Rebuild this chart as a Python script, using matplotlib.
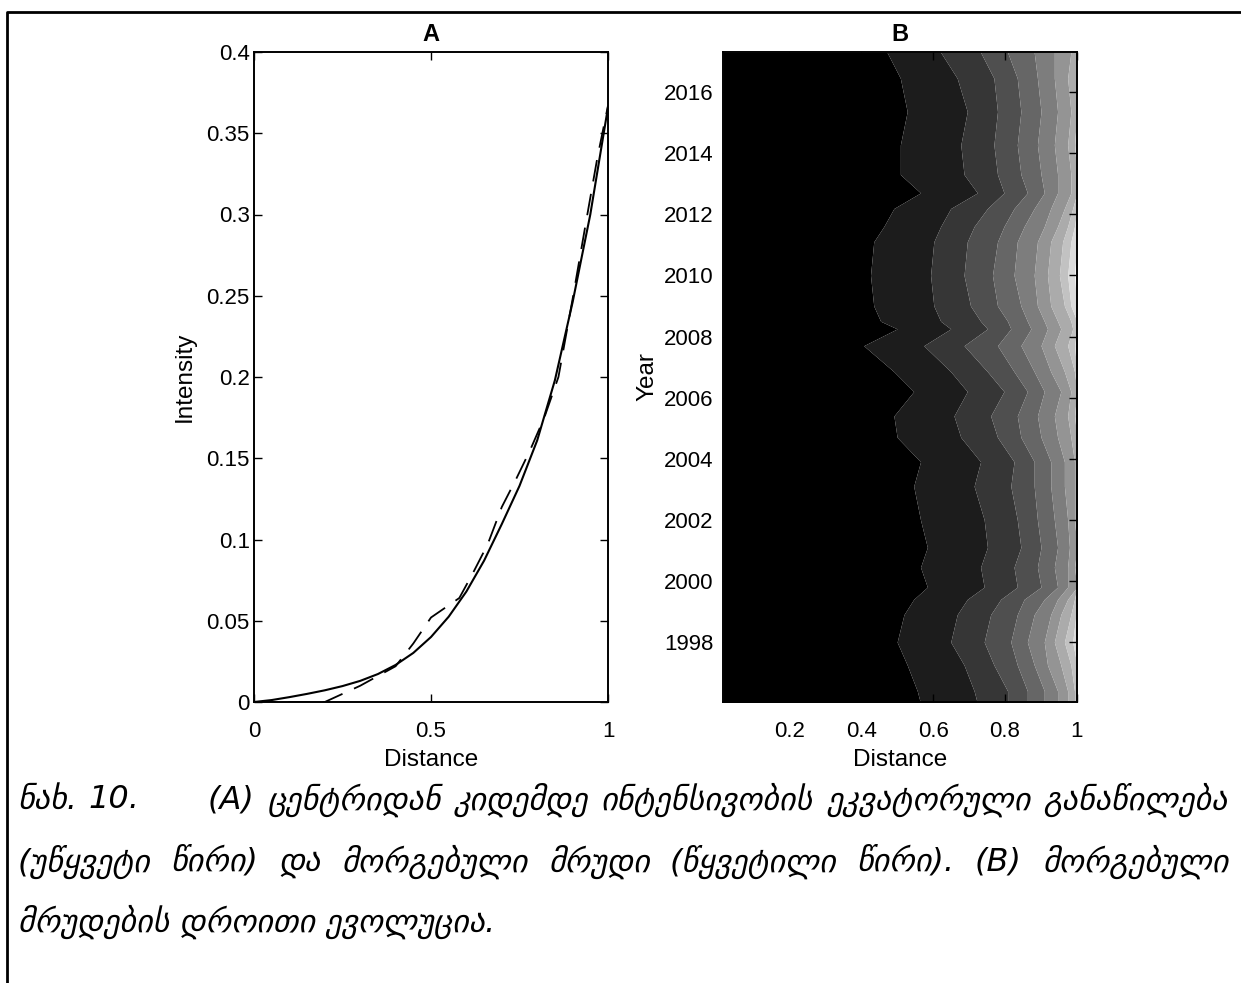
import numpy as np
import matplotlib
matplotlib.use("Agg")
import matplotlib.pyplot as plt
from matplotlib.lines import Line2D

plt.rcParams['font.family'] = ['Liberation Sans', 'DejaVu Sans']

# Panel A: equatorial intensity profile (solid) and fitted curve (dashed)
dist_solid = [0.0, 0.05, 0.1, 0.15, 0.2, 0.25, 0.3, 0.35, 0.4, 0.45, 0.5,
              0.55, 0.6, 0.65, 0.7, 0.75, 0.8, 0.85, 0.9, 0.95, 1.0]
int_solid = [0.0, 0.0012, 0.003, 0.005, 0.0072, 0.0098, 0.013, 0.0172, 0.0228, 0.0302, 0.040,
             0.0525, 0.068, 0.087, 0.1095, 0.133, 0.161, 0.198, 0.246, 0.300, 0.366]
dist_fit = [0.0, 0.1, 0.2, 0.25, 0.3, 0.35, 0.4, 0.45, 0.5, 0.54, 0.58, 0.62, 0.66,
            0.7, 0.74, 0.78, 0.82, 0.86, 0.9, 0.94, 0.97, 1.0]
int_fit = [0.0, 0.0, 0.0, 0.005, 0.010, 0.016, 0.022, 0.036, 0.052, 0.058, 0.064, 0.080,
           0.097, 0.120, 0.137, 0.155, 0.175, 0.200, 0.248, 0.298, 0.335, 0.367]

# Panel B: distance where each contour level starts, per year
years = [1996.0, 1996.4, 1997.25, 1998.0, 1998.9, 1999.4, 1999.8, 2000.45, 2001.1, 2002.0,
         2003.1, 2003.9, 2004.7, 2005.4, 2006.2, 2006.85, 2007.7, 2008.25, 2008.5, 2009.0,
         2010.0, 2011.1, 2011.6, 2012.19, 2012.7, 2013.3, 2014.27, 2015.36, 2016.45, 2017.3]
lvl1 = [.565, .556, .528, .500, .519, .546, .584, .565, .584, .565, .546, .565, .500, .491, .546,
        .491, .407, .500, .454, .435, .426, .435, .463, .491, .565, .509, .509, .528, .509, .472]
lvl2 = [.723, .714, .686, .649, .667, .695, .742, .732, .751, .742, .714, .732, .677, .658, .695,
        .649, .574, .649, .621, .602, .593, .602, .621, .649, .723, .686, .677, .695, .667, .621]
lvl3 = [.807, .807, .769, .742, .760, .788, .834, .825, .844, .834, .816, .825, .779, .760, .797,
        .751, .686, .751, .732, .704, .686, .695, .714, .751, .797, .779, .769, .779, .769, .732]
lvl4 = [.862, .862, .834, .816, .834, .853, .900, .890, .900, .890, .881, .881, .844, .834, .862,
        .825, .779, .816, .807, .779, .765, .779, .797, .825, .862, .844, .834, .844, .834, .807]
lvl5 = [.909, .909, .881, .862, .881, .909, .946, .937, .946, .937, .927, .927, .900, .890, .909,
        .881, .844, .872, .862, .844, .825, .834, .853, .881, .909, .900, .890, .900, .890, .881]
lvl6 = [.946, .946, .918, .909, .927, .946, .974, .974, .979, .974, .965, .965, .946, .937, .955,
        .927, .900, .918, .909, .890, .881, .890, .909, .927, .946, .946, .937, .946, .937, .937]
lvl7 = [.974, .974, .955, .937, .955, .974, 1.0, .993, 1.0, .993, .993, .993, .983, .974, .983,
        .965, .937, .955, .946, .927, .918, .927, .946, .965, .983, .983, .974, .983, .974, .983]
lvl8 = [.993, .993, .983, .965, .983, .993, 1.0, 1.0, 1.0, 1.0, 1.0, 1.0, 1.0, .993, 1.0,
        .993, .974, .988, .983, .965, .951, .960, .974, .988, 1.0, 1.0, .993, 1.0, .997, .997]
lvl9 = [1.0, 1.0, 1.0, .988, .997, 1.0, 1.0, 1.0, 1.0, 1.0, 1.0, 1.0, 1.0, 1.0, 1.0,
        1.0, .993, 1.0, 1.0, .983, .974, .983, .993, 1.0, 1.0, 1.0, 1.0, 1.0, 1.0, 1.0]
lvl10 = [1.0, 1.0, 1.0, 1.0, 1.0, 1.0, 1.0, 1.0, 1.0, 1.0, 1.0, 1.0, 1.0, 1.0, 1.0,
         1.0, 1.0, 1.0, 1.0, 1.0, .993, 1.0, 1.0, 1.0, 1.0, 1.0, 1.0, 1.0, 1.0, 1.0]
band_grays = [0.0, 0.11, 0.21, 0.31, 0.40, 0.49, 0.58, 0.67, 0.76, 0.86, 0.95]

caption_1 = ["ცენტრიდან", "კიდემდე", "ინტენსივობის", "ეკვატორული", "განაწილება"]
caption_2 = ["(უწყვეტი", "წირი)", "და", "მორგებული", "მრუდი", "(წყვეტილი", "წირი).", "(B)", "მორგებული"]
caption_3 = "მრუდების დროითი ევოლუცია."

W, H = 1241, 983
fig = plt.figure(figsize=(W / 100, H / 100), dpi=100)

def style_axes(ax, ypad):
    ax.tick_params(direction='in', top=True, right=True, labelsize=16, length=6, width=1)
    ax.tick_params(axis='x', pad=14)
    ax.tick_params(axis='y', pad=ypad)
    for s in ax.spines.values():
        s.set_linewidth(1.4)

# --- A ---
axA = fig.add_axes([254 / W, 1 - 702 / H, 354 / W, 650 / H])
axA.plot(dist_solid, int_solid, 'k-', lw=1.5)
axA.plot(dist_fit, int_fit, 'k--', lw=1.3, dashes=(12, 7))
axA.set_xlim(0, 1)
axA.set_ylim(0, 0.4)
axA.set_xticks([0, 0.5, 1])
axA.set_xticklabels(["0", "0.5", "1"])
yt = [0, 0.05, 0.1, 0.15, 0.2, 0.25, 0.3, 0.35, 0.4]
axA.set_yticks(yt)
axA.set_yticklabels(["0", "0.05", "0.1", "0.15", "0.2", "0.25", "0.3", "0.35", "0.4"])
axA.set_xlabel("Distance", fontsize=17.5, labelpad=5)
axA.set_ylabel("Intensity", fontsize=17.5, labelpad=8)
axA.set_title("A", fontsize=17, fontweight='bold', pad=8)
style_axes(axA, 3)

# --- B ---
axB = fig.add_axes([723 / W, 1 - 702 / H, 354 / W, 650 / H])
xmin = 0.016
edges = [lvl1, lvl2, lvl3, lvl4, lvl5, lvl6, lvl7, lvl8, lvl9, lvl10]
lefts = [[xmin] * len(years)] + edges
rights = edges + [[1.0] * len(years)]
for k in range(len(band_grays)):
    g = band_grays[k]
    axB.fill_betweenx(years, lefts[k], rights[k], color=(g, g, g), lw=0)
axB.set_xlim(xmin, 1.0)
axB.set_ylim(1996.04, 2017.31)
axB.set_xticks([0.2, 0.4, 0.6, 0.8, 1.0])
axB.set_xticklabels(["0.2", "0.4", "0.6", "0.8", "1"])
axB.set_yticks(list(range(1998, 2017, 2)))
axB.set_yticklabels([str(y) for y in range(1998, 2017, 2)])
axB.set_xlabel("Distance", fontsize=17.5, labelpad=5)
axB.set_ylabel("Year", fontsize=17.5, labelpad=4)
axB.set_title("B", fontsize=17, fontweight='bold', pad=8)
style_axes(axB, 7)

# border around figure (left and top)
fig.add_artist(Line2D([7 / W, 7 / W, 1.0], [0.0, 1 - 12 / H, 1 - 12 / H],
                      transform=fig.transFigure, color='black', lw=2))

# caption, justified like the source page
cap_font = dict(fontsize=23, style='italic', family=['DejaVu Sans', 'DejaVu Serif'],
                va='center', ha='left')
renderer = fig.canvas.get_renderer()

def justify(words, y, x0, x1):
    ts = [fig.text(0, y, w, **cap_font) for w in words]
    widths = [t.get_window_extent(renderer).width for t in ts]
    gap = (x1 - x0 - sum(widths)) / (len(words) - 1)
    x = x0
    for t, w in zip(ts, widths):
        t.set_x(x / W)
        x += w + gap

y1, y2, y3 = 1 - 800 / H, 1 - 862 / H, 1 - 922 / H
fig.text(18 / W, y1, "ნახ.", **cap_font)
fig.text(88 / W, y1, "10.", **cap_font)
justify(["(A)"] + caption_1, y1, 208, 1228)
justify(caption_2, y2, 18, 1228)
fig.text(18 / W, y3, caption_3, **cap_font)

fig.savefig("out.png", dpi=100)
